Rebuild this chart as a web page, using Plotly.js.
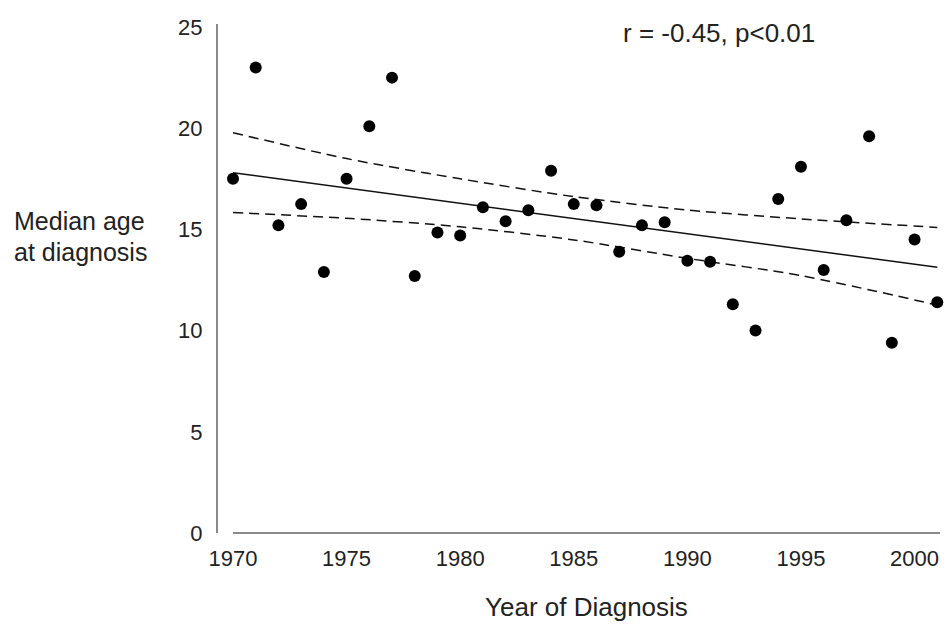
<!DOCTYPE html>
<html>
<head>
<meta charset="utf-8">
<script src="https://cdn.plot.ly/plotly-3.0.1.min.js"></script>
<style>
html,body{margin:0;padding:0;background:#fff;}
#chart{width:946px;height:626px;}
</style>
</head>
<body>
<div id="chart"></div>
<script>
// Data
var years = [1970,1971,1972,1973,1974,1975,1976,1977,1978,1979,1980,1981,1982,1983,1984,1985,1986,1987,1988,1989,1990,1991,1992,1993,1994,1995,1996,1997,1998,1999,2000,2001];
var medianAge = [17.5,23.0,15.2,16.25,12.9,17.5,20.1,22.5,12.7,14.85,14.7,16.1,15.4,15.95,17.9,16.25,16.2,13.9,15.2,15.35,13.45,13.4,11.3,10.0,16.5,18.1,13.0,15.45,19.6,9.4,14.5,11.4];

var fitYears = [1970, 2001];
var fitValues = [17.8, 13.13];

var ciYears = [1970,1975,1980,1985,1990,1995,2001];
var ciUpper = [19.78,18.5,17.5,16.62,15.96,15.52,15.1];
var ciLower = [15.83,15.55,15.13,14.48,13.57,12.72,11.26];

var xTicks = [1970,1975,1980,1985,1990,1995,2000];
var yTicks = [0,5,10,15,20,25];

var fontFam = '"Liberation Sans", Arial, Helvetica, sans-serif';
var lineCol = '#111';

var traces = [
  {x: ciYears, y: ciUpper, mode: 'lines', type: 'scatter', hoverinfo: 'skip',
   line: {color: lineCol, width: 1.5, dash: '10px,6px', shape: 'spline', smoothing: 0.8}},
  {x: ciYears, y: ciLower, mode: 'lines', type: 'scatter', hoverinfo: 'skip',
   line: {color: lineCol, width: 1.5, dash: '10px,6px', shape: 'spline', smoothing: 0.8}},
  {x: fitYears, y: fitValues, mode: 'lines', type: 'scatter', hoverinfo: 'skip',
   line: {color: lineCol, width: 1.5}},
  {x: years, y: medianAge, mode: 'markers', type: 'scatter', cliponaxis: false,
   marker: {color: '#000', size: 12}}
];

var layout = {
  width: 946, height: 626,
  margin: {l: 218, r: 6, t: 24, b: 93, pad: 0},
  paper_bgcolor: '#fff', plot_bgcolor: '#fff',
  showlegend: false,
  font: {family: fontFam, color: '#222'},
  xaxis: {
    range: [1969.34, 2001.12],
    tickvals: xTicks, ticktext: xTicks.map(String),
    ticks: '', showgrid: false, zeroline: false, showline: false,
    tickfont: {size: 22, family: fontFam, color: '#222'},
    ticklabelstandoff: 10
  },
  yaxis: {
    range: [0, 25.15],
    tickvals: yTicks, ticktext: yTicks.map(String),
    ticks: '', showgrid: false, zeroline: false,
    showline: true, linecolor: '#8a8a8a', linewidth: 2,
    tickfont: {size: 22, family: fontFam, color: '#222'},
    ticklabelstandoff: 9
  },
  shapes: [
    {type: 'line', xref: 'x', yref: 'paper', x0: 1970, x1: 2001.12, y0: 0, y1: 0,
     line: {color: '#8a8a8a', width: 2}}
  ],
  annotations: [
    {text: 'r = -0.45, p<0.01', xref: 'paper', yref: 'paper', x: 0.6939, y: 0.982,
     xanchor: 'center', yanchor: 'middle', showarrow: false,
     font: {size: 26, family: fontFam, color: '#222'}},
    {text: 'Year of Diagnosis', xref: 'paper', yref: 'paper', x: 0.5097, y: -0.1454,
     xanchor: 'center', yanchor: 'middle', showarrow: false,
     font: {size: 26, family: fontFam, color: '#222'}},
    {text: 'Median age', xref: 'paper', yref: 'paper', x: -0.2839, y: 0.6130,
     xanchor: 'left', yanchor: 'middle', showarrow: false, borderpad: 0,
     font: {size: 25, family: fontFam, color: '#222'}},
    {text: 'at diagnosis', xref: 'paper', yref: 'paper', x: -0.2839, y: 0.5520,
     xanchor: 'left', yanchor: 'middle', showarrow: false, borderpad: 0,
     font: {size: 25, family: fontFam, color: '#222'}}
  ]
};

Plotly.newPlot('chart', traces, layout, {displayModeBar: false, staticPlot: true});
</script>
</body>
</html>
